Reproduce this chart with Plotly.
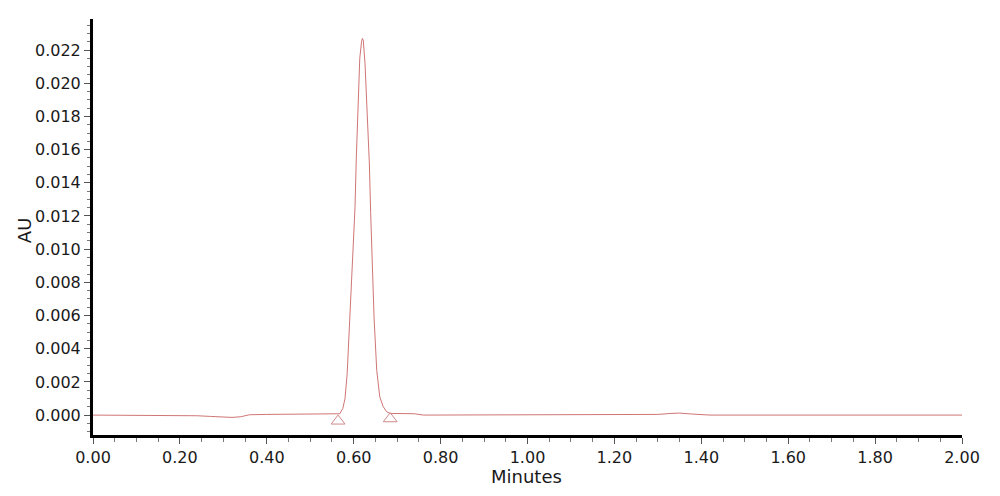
import plotly.graph_objects as go

# chromatogram trace
time_min = [0.00, 0.20, 0.24, 0.27, 0.30, 0.32, 0.34, 0.36, 0.40, 0.50, 0.55,
            0.560, 0.568, 0.575, 0.580, 0.585, 0.590, 0.595, 0.600, 0.603, 0.606,
            0.610, 0.614, 0.618, 0.620, 0.622, 0.626, 0.631, 0.636, 0.639, 0.642,
            0.647, 0.653, 0.660, 0.668, 0.676, 0.684, 0.70, 0.74, 0.76, 1.10,
            1.16, 1.30, 1.33, 1.35, 1.38, 1.42, 2.00]
au = [0.0, 0.0, -0.00004, -0.00008, -0.00012, -0.00014, -0.00010, 0.00002, 0.00004, 0.00004, 0.00005,
      0.00005, 0.00008, 0.00040, 0.00100, 0.00250, 0.00520, 0.00800, 0.01050, 0.01250, 0.01550,
      0.01900, 0.02150, 0.02250, 0.02270, 0.02260, 0.02120, 0.01820, 0.01520, 0.01220, 0.00970,
      0.00580, 0.00270, 0.00110, 0.00050, 0.00020, 0.00010, 0.00010, 0.00008, 0.0, 0.0,
      0.00003, 0.00004, 0.00010, 0.00012, 0.00006, 0.0, 0.0]

# peak start / end markers
mark_time = [0.564, 0.684]
mark_au = [-0.00036, -0.00022]

x_ticks = [0.0, 0.2, 0.4, 0.6, 0.8, 1.0, 1.2, 1.4, 1.6, 1.8, 2.0]
y_ticks = [0.000, 0.002, 0.004, 0.006, 0.008, 0.010, 0.012, 0.014, 0.016, 0.018, 0.020, 0.022]

trace_col = "#d07575"
font = "DejaVu Sans"

fig = go.Figure()
fig.add_trace(go.Scatter(x=time_min, y=au, mode="lines",
                         line=dict(color=trace_col, width=1)))
fig.add_trace(go.Scatter(x=mark_time, y=mark_au, mode="markers",
                         marker=dict(symbol="triangle-up-open", size=12,
                                     color="#d08a8a", line=dict(width=1))))

# page body adds an 8px offset, so margins are trimmed on the left/top
fig.update_layout(
    width=1000, height=496,
    margin=dict(l=85, r=46, t=11, b=69),
    plot_bgcolor="white", paper_bgcolor="white",
    showlegend=False,
    font=dict(family=font, size=16, color="#1a1a1a"),
)
fig.update_xaxes(
    range=[0, 2], tickvals=x_ticks, ticktext=[f"{v:.2f}" for v in x_ticks],
    showline=True, linecolor="black", linewidth=3,
    ticks="outside", ticklen=6, tickcolor="#555", tickwidth=1,
    minor=dict(dtick=0.05, ticks="outside", ticklen=4, tickcolor="#777"),
    showgrid=False, zeroline=False,
)
fig.update_yaxes(
    range=[-0.0012, 0.02387], tickvals=y_ticks, ticktext=[f"{v:.3f}" for v in y_ticks],
    showline=True, linecolor="black", linewidth=3,
    ticks="outside", ticklen=6, tickcolor="#555", tickwidth=1,
    minor=dict(tick0=0, dtick=0.0005, ticks="outside", ticklen=3, tickcolor="#777"),
    showgrid=False, zeroline=False,
)

fig.add_annotation(text="AU", xref="paper", yref="paper", x=-0.078, y=0.493,
                   showarrow=False, textangle=-90, font=dict(size=18),
                   xanchor="center", yanchor="middle")
fig.add_annotation(text="Minutes", xref="paper", yref="paper", x=0.4994, y=-0.1,
                   showarrow=False, font=dict(size=18),
                   xanchor="center", yanchor="middle")

fig.write_html("out.html")
